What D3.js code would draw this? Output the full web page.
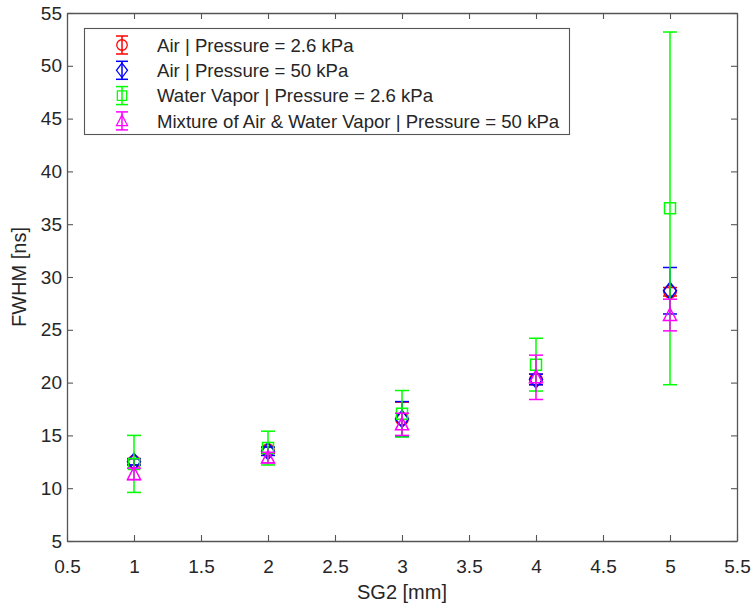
<!DOCTYPE html>
<html>
<head>
<meta charset="utf-8">
<script src="https://cdn.jsdelivr.net/npm/d3@7"></script>
<style>
  html, body { margin: 0; padding: 0; background: #fff; }
  svg { display: block; font-family: "Liberation Sans", Arial, sans-serif; }
</style>
</head>
<body>
<svg id="chart" width="751" height="605"></svg>
<script>
// SG2 gap values (mm)
const sg2 = [1, 2, 3, 4, 5];

// FWHM means (ns) and symmetric error half-widths for each gas / pressure case
const airLowMean   = [12.5, 13.6, 16.55, 20.3, 28.6];
const airLowErr    = [0.3, 0.3, 1.6, 0.5, 0.4];
const airHighMean  = [12.5, 13.5, 16.55, 20.3, 28.7];
const airHighErr   = [0.3, 0.4, 1.65, 0.5, 2.2];
const vaporMean    = [12.3, 13.8, 17.05, 21.7, 36.5];
const vaporErr     = [2.7, 1.6, 2.2, 2.5, 16.7];
const mixMean      = [11.35, 12.9, 16.05, 20.5, 26.4];
const mixErr       = [0.55, 0.5, 1.05, 2.1, 1.5];

const seriesNames = [
  "Air | Pressure = 2.6 kPa",
  "Air | Pressure = 50 kPa",
  "Water Vapor | Pressure = 2.6 kPa",
  "Mixture of Air & Water Vapor | Pressure = 50 kPa"
];
const seriesColors = ["#ff0000", "#0000ff", "#00ff00", "#ff00ff"];
const seriesMarkers = ["circle", "diamond", "square", "triangle"];

const xTicks = [0.5, 1, 1.5, 2, 2.5, 3, 3.5, 4, 4.5, 5, 5.5];
const yTicks = [5, 10, 15, 20, 25, 30, 35, 40, 45, 50, 55];

const series = [
  { mean: airLowMean, err: airLowErr },
  { mean: airHighMean, err: airHighErr },
  { mean: vaporMean, err: vaporErr },
  { mean: mixMean, err: mixErr }
].map((s, i) => ({
  name: seriesNames[i], color: seriesColors[i], marker: seriesMarkers[i],
  points: sg2.map((x, j) => ({ x, y: s.mean[j], e: s.err[j] }))
}));

const svg = d3.select("#chart");
const plot = { left: 67, right: 737, top: 13, bottom: 541 };
const axisColor = "#555555";
const textColor = "#262626";

const x = d3.scaleLinear().domain([0.5, 5.5]).range([plot.left, plot.right]);
const y = d3.scaleLinear().domain([5, 55]).range([plot.bottom, plot.top]);

// Axes with inward ticks, mirrored on top and right like a boxed frame
const tickLen = 6;
const gx = svg.append("g").attr("transform", `translate(0,${plot.bottom})`)
  .call(d3.axisBottom(x).tickValues(xTicks).tickSizeInner(-tickLen).tickSizeOuter(0)
    .tickFormat(d3.format("")));
const gy = svg.append("g").attr("transform", `translate(${plot.left},0)`)
  .call(d3.axisLeft(y).tickValues(yTicks).tickSizeInner(-tickLen).tickSizeOuter(0).tickPadding(5)
    .tickFormat(d3.format("")));
const gxTop = svg.append("g").attr("transform", `translate(0,${plot.top})`)
  .call(d3.axisTop(x).tickValues(xTicks).tickSizeInner(-tickLen).tickSizeOuter(0).tickFormat(""));
const gyRight = svg.append("g").attr("transform", `translate(${plot.right},0)`)
  .call(d3.axisRight(y).tickValues(yTicks).tickSizeInner(-tickLen).tickSizeOuter(0).tickFormat(""));

[gx, gy, gxTop, gyRight].forEach(g => {
  g.select(".domain").attr("stroke", axisColor).attr("stroke-width", 1.3);
  g.selectAll(".tick line").attr("stroke", axisColor).attr("stroke-width", 1.1);
  g.selectAll(".tick text").attr("fill", textColor).attr("font-size", 19)
    .attr("font-family", "Liberation Sans, Arial, sans-serif");
});
gx.selectAll(".tick text").attr("dy", null).attr("y", 32);

svg.append("text")
  .attr("x", (plot.left + plot.right) / 2).attr("y", 599)
  .attr("text-anchor", "middle").attr("fill", textColor).attr("font-size", 20)
  .text("SG2 [mm]");
svg.append("text")
  .attr("transform", `translate(26,${(plot.top + plot.bottom) / 2}) rotate(-90)`)
  .attr("text-anchor", "middle").attr("fill", textColor).attr("font-size", 20)
  .text("FWHM [ns]");

// Marker shapes (centered at origin)
function markerPath(type) {
  switch (type) {
    case "circle": return d3.symbol(d3.symbolCircle, 120)();
    case "diamond": return "M0,-8.5L6.5,0L0,8.5L-6.5,0Z";
    case "square": return "M-5.5,-5.5H5.5V5.5H-5.5Z";
    case "triangle": return "M0,-7L6.5,5.5H-6.5Z";
  }
}

const capHalf = 7;
const layer = svg.append("g");
series.forEach(s => {
  const g = layer.append("g").attr("stroke", s.color).attr("fill", "none").attr("stroke-width", 1.5);
  const pts = g.selectAll("g.pt").data(s.points).join("g").attr("class", "pt");
  pts.append("line")
    .attr("x1", d => x(d.x)).attr("x2", d => x(d.x))
    .attr("y1", d => y(d.y + d.e)).attr("y2", d => y(d.y - d.e));
  pts.append("line")
    .attr("x1", d => x(d.x) - capHalf).attr("x2", d => x(d.x) + capHalf)
    .attr("y1", d => y(d.y + d.e)).attr("y2", d => y(d.y + d.e));
  pts.append("line")
    .attr("x1", d => x(d.x) - capHalf).attr("x2", d => x(d.x) + capHalf)
    .attr("y1", d => y(d.y - d.e)).attr("y2", d => y(d.y - d.e));
  pts.append("path")
    .attr("d", markerPath(s.marker))
    .attr("transform", d => `translate(${x(d.x)},${y(d.y)})`);
});

// Legend
const legend = svg.append("g");
legend.append("rect")
  .attr("x", 84.5).attr("y", 28.5).attr("width", 485).attr("height", 106)
  .attr("fill", "#fff").attr("stroke", axisColor).attr("stroke-width", 1.1);
series.forEach((s, i) => {
  const cy = 45 + i * 25.3;
  const cx = 122;
  const g = legend.append("g").attr("stroke", s.color).attr("fill", "none").attr("stroke-width", 1.5);
  g.append("line").attr("x1", cx).attr("x2", cx).attr("y1", cy - 9).attr("y2", cy + 9);
  g.append("line").attr("x1", cx - 6).attr("x2", cx + 6).attr("y1", cy - 9).attr("y2", cy - 9);
  g.append("line").attr("x1", cx - 6).attr("x2", cx + 6).attr("y1", cy + 9).attr("y2", cy + 9);
  g.append("path").attr("d", markerPath(s.marker)).attr("transform", `translate(${cx},${cy}) scale(0.85)`);
  legend.append("text")
    .attr("x", 157).attr("y", cy).attr("dy", "0.36em")
    .attr("fill", textColor).attr("font-size", 18.6)
    .text(s.name);
});
</script>
</body>
</html>
